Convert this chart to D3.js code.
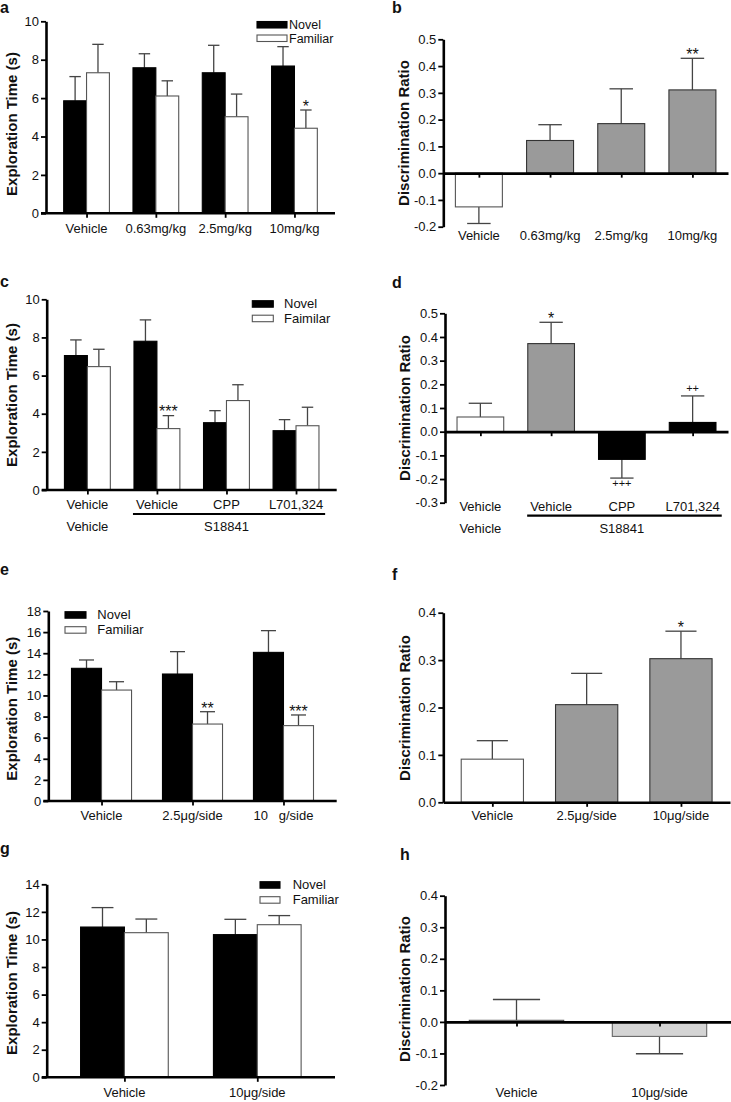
<!DOCTYPE html>
<html><head><meta charset="utf-8">
<script src="https://cdn.jsdelivr.net/npm/d3@7"></script>
<style>
body{margin:0;background:#fff}
text{font-family:"Liberation Sans",Arial,sans-serif;fill:#111}
</style>
</head><body>
<svg id="fig" width="731" height="1102"></svg>
<script>
// ---------- DATA ----------
// Panel a
const catsA = ["Vehicle", "0.63mg/kg", "2.5mg/kg", "10mg/kg"];
const novelA = [5.86, 7.58, 7.32, 7.67];
const novelErrA = [1.26, 0.73, 1.43, 1.01];
const famA = [7.32, 6.11, 5.03, 4.43];
const famErrA = [1.48, 0.79, 1.18, 0.95];
const famSigA = ["", "", "", "*"];
// Panel b
const catsB = ["Vehicle", "0.63mg/kg", "2.5mg/kg", "10mg/kg"];
const ratioB = [-0.126, 0.122, 0.185, 0.311];
const ratioErrB = [0.062, 0.059, 0.130, 0.118];
const fillB = ["white", "grey", "grey", "grey"];
const sigB = ["", "", "", "**"];
// Panel c
const catsC = ["Vehicle", "Vehicle ", "CPP", "L701,324"];
const novelC = [7.05, 7.80, 3.53, 3.11];
const novelErrC = [0.82, 1.12, 0.63, 0.58];
const famC = [6.47, 3.22, 4.69, 3.37];
const famErrC = [0.91, 0.68, 0.83, 0.97];
const famSigC = ["", "***", "", ""];
// Panel d
const catsD = ["Vehicle", "Vehicle ", "CPP", "L701,324"];
const ratioD = [0.062, 0.372, -0.117, 0.039];
const ratioErrD = [0.058, 0.090, 0.079, 0.112];
const fillD = ["white", "grey", "black", "black"];
const sigD = ["", "*", "+++", "++"];
// second-row labels (c, d)
const pretreat = ["Vehicle", "S18841"];
// Panel e
const catsE = ["Vehicle", "2.5\u03bcg/side", "10\u00a0\u00a0\u00a0g/side"];
const novelE = [12.57, 12.03, 14.08];
const novelErrE = [0.79, 2.12, 2.06];
const famE = [10.51, 7.29, 7.14];
const famErrE = [0.79, 1.17, 1.01];
const famSigE = ["", "**", "***"];
// Panel f
const catsF = ["Vehicle", "2.5\u03bcg/side", "10\u03bcg/side"];
const ratioF = [0.091, 0.206, 0.303];
const ratioErrF = [0.039, 0.066, 0.058];
const fillF = ["white", "grey", "grey"];
const sigF = ["", "", "*"];
// Panel g
const catsG = ["Vehicle", "10\u03bcg/side"];
const novelG = [10.90, 10.35];
const novelErrG = [1.41, 1.11];
const famG = [10.49, 11.07];
const famErrG = [0.99, 0.66];
const famSigG = ["", ""];
// Panel h
const catsH = ["Vehicle", "10\u03bcg/side"];
const ratioH = [0.005, -0.046];
const ratioErrH = [0.066, 0.055];
const fillH = ["white", "light"];
const sigH = ["", ""];

// Tick values
const ticksA = [0, 2, 4, 6, 8, 10];
const ticksB = [-0.2, -0.1, 0, 0.1, 0.2, 0.3, 0.4, 0.5];
const ticksC = [0, 2, 4, 6, 8, 10];
const ticksD = [-0.3, -0.2, -0.1, 0, 0.1, 0.2, 0.3, 0.4, 0.5];
const ticksE = [0, 2, 4, 6, 8, 10, 12, 14, 16, 18];
const ticksF = [0, 0.1, 0.2, 0.3, 0.4];
const ticksG = [0, 2, 4, 6, 8, 10, 12, 14];
const ticksH = [-0.2, -0.1, 0, 0.1, 0.2, 0.3, 0.4];

const legendNames = ["Novel", "Familiar"];
const legendNamesC = ["Novel", "Faimilar"];

// ---------- STYLE ----------
const FILL = {white: "#ffffff", grey: "#9a9a9a", black: "#000000", light: "#d4d4d4"};
const STROKE = {white: "#555", grey: "#333", black: "#000", light: "#666"};
const ERR = "#444";
const FS = 13;

const svg = d3.select("#fig");

function styleAxis(g) {
  g.select(".domain").attr("stroke", "#000").attr("stroke-width", 2.6);
  g.selectAll(".tick line").attr("stroke", "#000").attr("stroke-width", 1.8);
  g.selectAll(".tick text").attr("font-size", FS).attr("fill", "#111")
    .attr("font-family", '"Liberation Sans",Arial,sans-serif');
}

function panelLetter(letter, x, y) {
  svg.append("text").attr("x", x).attr("y", y).attr("font-size", 16)
    .attr("font-weight", "bold").text(letter);
}

function yLabel(text, x, y) {
  svg.append("text").attr("transform", `translate(${x},${y}) rotate(-90)`)
    .attr("text-anchor", "middle").attr("font-size", 15).attr("font-weight", "bold")
    .text(text);
}

function sigText(g, s, x, capY, above) {
  if (!s) return;
  const isPlus = s[0] === "+";
  let yb;
  if (isPlus) yb = above ? capY - 3.8 : capY + 9.2;
  else yb = capY + 1.8;
  g.append("text").attr("x", x).attr("y", yb).attr("text-anchor", "middle")
    .attr("font-size", isPlus ? 11 : 16).text(s);
}

function errBar(g, cx, y0, y1, cap) {
  g.append("line").attr("x1", cx).attr("x2", cx).attr("y1", y0).attr("y2", y1)
    .attr("stroke", ERR).attr("stroke-width", 1.3);
  g.append("line").attr("x1", cx - cap / 2).attr("x2", cx + cap / 2).attr("y1", y1).attr("y2", y1)
    .attr("stroke", ERR).attr("stroke-width", 1.3);
}

function exploration(cfg) {
  const g = svg.append("g");
  const x = d3.scalePoint().domain(cfg.cats).range([cfg.x0, cfg.x1]).padding(0.585);
  const y = d3.scaleLinear().domain([0, cfg.yMax]).range([cfg.yBot, cfg.yTop]);
  const bw = x.step() * 0.33;
  const rows = cfg.cats.map((c, i) => ({c, i}));
  const series = [
    {vals: cfg.novel, errs: cfg.novelErr, off: -bw / 2, type: "black", sig: null},
    {vals: cfg.fam, errs: cfg.famErr, off: bw / 2, type: "white", sig: cfg.famSig}
  ];
  series.forEach(s => {
    rows.forEach(r => {
      const cx = x(r.c) + s.off;
      errBar(g, cx, y(s.vals[r.i]), y(s.vals[r.i] + s.errs[r.i]), bw * 0.5);
    });
  });
  series.forEach(s => {
    g.selectAll(null).data(rows).enter().append("rect")
      .attr("x", r => x(r.c) + s.off - bw / 2)
      .attr("width", bw)
      .attr("y", r => y(s.vals[r.i]))
      .attr("height", r => y(0) - y(s.vals[r.i]))
      .attr("fill", FILL[s.type]).attr("stroke", STROKE[s.type]).attr("stroke-width", 1.1);
    if (s.sig) rows.forEach(r => {
      sigText(g, s.sig[r.i], x(r.c) + s.off, y(s.vals[r.i] + s.errs[r.i]), true);
    });
  });
  const ya = g.append("g").attr("transform", `translate(${cfg.x0},0)`)
    .call(d3.axisLeft(y).tickValues(cfg.ticks).tickSize(5).tickSizeOuter(0).tickPadding(2).tickFormat(d3.format("d")));
  styleAxis(ya);
  const xa = g.append("g").attr("transform", `translate(0,${cfg.yBot})`)
    .call(d3.axisBottom(x).tickSize(4.5).tickSizeOuter(0).tickFormat(""));
  styleAxis(xa);
  xa.select(".domain").attr("d", `M${cfg.x0 - 5},0H${cfg.x1}`);
  const labs = g.selectAll(null).data(rows).enter().append("text")
    .attr("x", r => x(r.c)).attr("y", cfg.labelBase).attr("text-anchor", "middle")
    .attr("font-size", FS).text(r => r.c.trim());
  if (cfg.legend) {
    const L = cfg.legend;
    ["black", "white"].forEach((t, k) => {
      const ty = L.y + k * L.dy;
      g.append("rect").attr("x", L.x).attr("y", ty).attr("width", L.w).attr("height", 6.5)
        .attr("fill", FILL[t]).attr("stroke", STROKE[t]).attr("stroke-width", 1.1);
      g.append("text").attr("x", L.tx).attr("y", ty + 7.5).attr("font-size", L.fs || FS).text(L.names[k]);
    });
  }
  yLabel("Exploration Time (s)", cfg.ylx, cfg.yly);
  return {g, x, labs};
}

function discrimination(cfg) {
  const g = svg.append("g");
  const x = d3.scalePoint().domain(cfg.cats).range([cfg.x0, cfg.x1]).padding(cfg.pad);
  const y = d3.scaleLinear().domain(cfg.domain).range([cfg.yBot, cfg.yTop]);
  const bw = x.step() * 0.66;
  const rows = cfg.cats.map((c, i) => ({c, i, v: cfg.vals[i], e: cfg.errs[i], f: cfg.fills[i]}));
  rows.forEach(r => {
    const tip = r.v >= 0 ? r.v + r.e : r.v - r.e;
    errBar(g, x(r.c), y(r.v), y(tip), bw * 0.5);
  });
  g.selectAll(null).data(rows).enter().append("rect")
    .attr("x", r => x(r.c) - bw / 2).attr("width", bw)
    .attr("y", r => y(Math.max(0, r.v)))
    .attr("height", r => Math.abs(y(r.v) - y(0)))
    .attr("fill", r => FILL[r.f]).attr("stroke", r => STROKE[r.f]).attr("stroke-width", 1.1);
  rows.forEach(r => {
    const tip = r.v >= 0 ? r.v + r.e : r.v - r.e;
    sigText(g, cfg.sig[r.i], x(r.c), y(tip), r.v >= 0);
  });
  const ya = g.append("g").attr("transform", `translate(${cfg.x0},0)`)
    .call(d3.axisLeft(y).tickValues(cfg.ticks).tickSize(5).tickSizeOuter(0).tickPadding(2)
      .tickFormat(d => (Math.abs(d) < 1e-9 ? 0 : d).toFixed(1)));
  styleAxis(ya);
  const xa = g.append("g").attr("transform", `translate(0,${y(0)})`)
    .call(d3.axisBottom(x).tickSize(4.5).tickSizeOuter(0).tickFormat(""));
  styleAxis(xa);
  const labs = g.selectAll(null).data(rows).enter().append("text")
    .attr("x", r => x(r.c)).attr("y", cfg.labelBase).attr("text-anchor", "middle")
    .attr("font-size", FS).text(r => r.c.trim());
  yLabel("Discrimination Ratio", cfg.ylx, cfg.yly);
  return {g, x, labs};
}

function secondRow(res, base) {
  const nodes = res.labs.nodes();
  const b2 = nodes[1].getBBox(), b4 = nodes[nodes.length - 1].getBBox();
  res.g.append("line").attr("x1", b2.x - 3).attr("x2", b4.x + b4.width + 2)
    .attr("y1", base + 5).attr("y2", base + 5).attr("stroke", "#000").attr("stroke-width", 2.2);
  const cats = res.x.domain();
  res.g.append("text").attr("x", res.x(cats[0])).attr("y", base + 22).attr("text-anchor", "middle")
    .attr("font-size", FS).text(pretreat[0]);
  res.g.append("text").attr("x", (res.x(cats[1]) + res.x(cats[3])) / 2).attr("y", base + 22)
    .attr("text-anchor", "middle").attr("font-size", FS).text(pretreat[1]);
}

// ---------- PANELS ----------
panelLetter("a", 0, 13);
exploration({cats: catsA, novel: novelA, novelErr: novelErrA, fam: famA, famErr: famErrA, famSig: famSigA,
  x0: 46, x1: 335, yTop: 21.3, yBot: 213.3, yMax: 10, ticks: ticksA, labelBase: 233, ylx: 17, yly: 124,
  legend: {x: 257, y: 21.5, dy: 13.5, w: 30, tx: 289, fs: 12.5, names: legendNames}});

panelLetter("b", 392, 13);
discrimination({cats: catsB, vals: ratioB, errs: ratioErrB, fills: fillB, sig: sigB, pad: 0.5,
  x0: 443.3, x1: 728, yTop: 39.3, yBot: 226.7, domain: [-0.2, 0.5], ticks: ticksB, labelBase: 240,
  ylx: 408.5, yly: 133});

panelLetter("c", 0, 287);
const resC = exploration({cats: catsC, novel: novelC, novelErr: novelErrC, fam: famC, famErr: famErrC, famSig: famSigC,
  x0: 46.7, x1: 336.7, yTop: 299.3, yBot: 490, yMax: 10, ticks: ticksC, labelBase: 509, ylx: 17, yly: 395,
  legend: {x: 252.3, y: 300.7, dy: 14.5, w: 21, tx: 284, names: legendNamesC}});
secondRow(resC, 509);

panelLetter("d", 392, 288);
const resD = discrimination({cats: catsD, vals: ratioD, errs: ratioErrD, fills: fillD, sig: sigD, pad: 0.5,
  x0: 445, x1: 728, yTop: 313.3, yBot: 502.7, domain: [-0.3, 0.5], ticks: ticksD, labelBase: 510.7,
  ylx: 410, yly: 408});
secondRow(resD, 510.7);

panelLetter("e", 0, 575);
exploration({cats: catsE, novel: novelE, novelErr: novelErrE, fam: famE, famErr: famErrE, famSig: famSigE,
  x0: 48.3, x1: 336.7, yTop: 611, yBot: 801, yMax: 18, ticks: ticksE, labelBase: 820, ylx: 17, yly: 708.7,
  legend: {x: 65, y: 611.7, dy: 15, w: 21, tx: 97.3, names: legendNames}});

panelLetter("f", 392, 580);
discrimination({cats: catsF, vals: ratioF, errs: ratioErrF, fills: fillF, sig: sigF, pad: 0.52,
  x0: 443.3, x1: 730, yTop: 612.7, yBot: 802.3, domain: [0, 0.4], ticks: ticksF, labelBase: 820,
  ylx: 410, yly: 708});

panelLetter("g", 0, 854);
exploration({cats: catsG, novel: novelG, novelErr: novelErrG, fam: famG, famErr: famErrG, famSig: famSigG,
  x0: 46.7, x1: 335, yTop: 884.3, yBot: 1077.3, yMax: 14, ticks: ticksG, labelBase: 1096.7, ylx: 17, yly: 983,
  legend: {x: 260, y: 881.7, dy: 15, w: 20, tx: 292.7, names: legendNames}});

panelLetter("h", 400, 860);
discrimination({cats: catsH, vals: ratioH, errs: ratioErrH, fills: fillH, sig: sigH, pad: 0.5,
  x0: 445, x1: 731, yTop: 895.7, yBot: 1085, domain: [-0.2, 0.4], ticks: ticksH, labelBase: 1096.7,
  ylx: 410, yly: 989});
</script>
</body></html>
